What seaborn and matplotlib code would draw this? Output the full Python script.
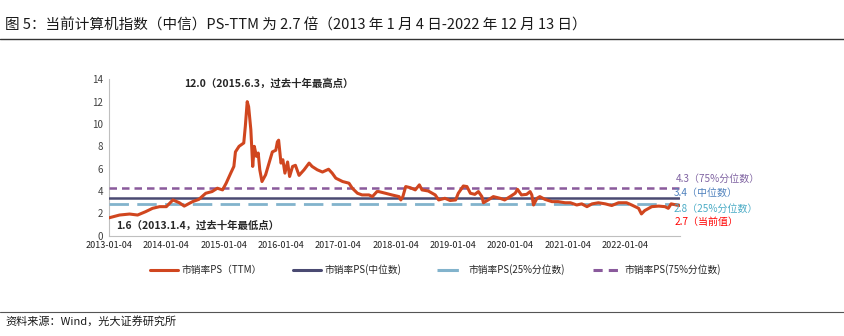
import matplotlib
matplotlib.use("Agg")
import matplotlib.pyplot as plt
from matplotlib.lines import Line2D
import seaborn as sns
import pandas as pd

sns.set_theme(style="white")
plt.rcParams['font.family'] = ['Noto Sans CJK SC', 'DejaVu Sans']

# ---- data ----
dates = [
    "2013-01-04", "2013-03-12", "2013-05-15", "2013-07-05", "2013-08-25", "2013-10-08", "2013-11-22",
    "2014-01-04", "2014-02-15", "2014-03-28", "2014-04-28", "2014-06-20", "2014-07-30", "2014-09-12",
    "2014-10-22", "2014-11-25", "2014-12-28", "2015-01-20", "2015-02-18", "2015-03-10", "2015-03-20",
    "2015-04-12", "2015-05-12", "2015-05-22", "2015-06-03", "2015-06-12", "2015-06-26", "2015-07-08",
    "2015-07-18", "2015-08-01", "2015-08-12", "2015-08-22", "2015-09-05", "2015-09-28", "2015-10-20",
    "2015-11-10", "2015-12-02", "2015-12-12", "2015-12-20", "2016-01-04", "2016-01-16", "2016-01-29",
    "2016-02-15", "2016-02-28", "2016-03-18", "2016-04-05", "2016-04-28", "2016-05-30", "2016-07-01",
    "2016-07-20", "2016-08-22", "2016-09-24", "2016-11-02", "2016-11-25", "2016-12-18", "2017-01-30",
    "2017-03-12", "2017-04-02", "2017-05-05", "2017-06-03", "2017-07-17", "2017-08-08", "2017-09-06",
    "2017-09-17", "2017-10-30", "2017-12-10", "2018-01-25", "2018-02-05", "2018-02-18", "2018-03-08",
    "2018-04-06", "2018-05-08", "2018-06-03", "2018-06-20", "2018-07-30", "2018-09-12", "2018-10-04",
    "2018-11-13", "2018-12-16", "2019-01-20", "2019-02-06", "2019-03-10", "2019-04-02", "2019-04-24",
    "2019-05-22", "2019-06-14", "2019-07-06", "2019-07-16", "2019-08-15", "2019-09-17", "2019-10-30",
    "2019-11-28", "2020-01-02", "2020-02-03", "2020-02-18", "2020-03-14", "2020-04-16", "2020-05-08",
    "2020-05-19", "2020-05-30", "2020-06-21", "2020-07-09", "2020-08-11", "2020-09-24", "2020-11-03",
    "2020-12-17", "2021-01-20", "2021-03-01", "2021-04-02", "2021-05-05", "2021-06-07", "2021-07-17",
    "2021-08-30", "2021-10-10", "2021-11-22", "2022-01-12", "2022-02-14", "2022-03-30", "2022-04-17",
    "2022-05-08", "2022-06-22", "2022-08-05", "2022-09-14", "2022-10-05", "2022-10-23", "2022-11-25",
    "2022-12-13",
]
ps_ttm = [
    1.6, 1.85, 1.94, 1.85, 2.15, 2.45, 2.6,
    2.6, 3.2, 2.95, 2.65, 3.05, 3.25, 3.8,
    3.95, 4.25, 4.1, 4.7, 5.6, 6.2, 7.5,
    8.0, 8.3, 9.8, 12.0, 11.55, 9.5, 6.2,
    8.0, 7.1, 7.4, 5.9, 4.85, 5.45, 6.5,
    7.5, 7.65, 8.4, 8.55, 6.5, 6.8, 5.6,
    6.6, 5.3, 6.2, 6.3, 5.4, 5.9, 6.5,
    6.2, 5.9, 5.7, 5.95, 5.6, 5.15, 4.85,
    4.7, 4.25, 3.8, 3.65, 3.65, 3.5, 3.95,
    3.95, 3.8, 3.65, 3.5, 3.2, 3.5, 4.4,
    4.3, 4.1, 4.55, 4.1, 4.0, 3.65, 3.2,
    3.35, 3.15, 3.2, 3.8, 4.45, 4.4, 3.8,
    3.7, 3.95, 3.5, 2.95, 3.2, 3.5, 3.35,
    3.2, 3.5, 3.8, 4.15, 3.65, 3.7, 3.95,
    3.65, 2.75, 3.35, 3.5, 3.25, 3.05, 3.05,
    2.95, 2.95, 2.75, 2.85, 2.6, 2.85, 2.95,
    2.85, 2.7, 2.95, 2.95, 2.75, 2.45, 1.95,
    2.25, 2.6, 2.65, 2.6, 2.45, 2.85, 2.75,
    2.7,
]
median_ps = 3.4
p25_ps = 2.8
p75_ps = 4.3
current_ps = 2.7
tick_dates = ["2013-01-04", "2014-01-04", "2015-01-04", "2016-01-04", "2017-01-04",
              "2018-01-04", "2019-01-04", "2020-01-04", "2021-01-04", "2022-01-04"]
y_ticks = [0, 2, 4, 6, 8, 10, 12, 14]
legend_labels = ["市销率PS（TTM）", "市销率PS(中位数)", "市销率PS(25%分位数)", "市销率PS(75%分位数)"]

df = pd.DataFrame({"date": pd.to_datetime(dates), "ps": ps_ttm})
df["median"] = median_ps
df["p25"] = p25_ps
df["p75"] = p75_ps

C_SERIES = "#D0461F"
C_MED = "#4A4A72"
C_P25 = "#82B3CC"
C_P75 = "#8A5A9C"

fig = plt.figure(figsize=(8.45, 3.36), dpi=100)
ax = fig.add_axes([0.129, 0.2985, 0.676, 0.4655])

sns.lineplot(data=df, x="date", y="ps", ax=ax, color=C_SERIES, linewidth=2.2, zorder=5)
sns.lineplot(data=df, x="date", y="median", ax=ax, color=C_MED, linewidth=1.8, zorder=3)
sns.lineplot(data=df, x="date", y="p25", ax=ax, color=C_P25, linewidth=2.0, zorder=3,
             linestyle=(0, (7, 3)))
sns.lineplot(data=df, x="date", y="p75", ax=ax, color=C_P75, linewidth=1.8, zorder=3,
             linestyle=(0, (3, 2)))

ax.set_xlim(pd.Timestamp("2013-01-04"), pd.Timestamp("2022-12-20"))
ax.set_ylim(0, 14)
ax.set_yticks(y_ticks)
ax.set_yticklabels([str(v) for v in y_ticks], fontsize=7, color="#404040")
ax.set_xticks(pd.to_datetime(tick_dates))
ax.set_xticklabels(tick_dates, fontsize=6.5, color="#202020")
ax.tick_params(axis="x", direction="in", length=3, color="#BFBFBF", pad=4)
ax.tick_params(axis="y", length=0, pad=4)
ax.set_xlabel("")
ax.set_ylabel("")
for s in ["top", "right"]:
    ax.spines[s].set_visible(False)
for s in ["left", "bottom"]:
    ax.spines[s].set_color("#BFBFBF")
    ax.spines[s].set_linewidth(0.8)
ax.grid(False)

# annotations
ax.text(pd.Timestamp("2014-04-25"), 13.65, "12.0（2015.6.3，过去十年最高点）", fontsize=7.5,
        color="#262626", fontweight="bold", va="center", ha="left")
ax.text(pd.Timestamp("2013-02-20"), 0.9, "1.6（2013.1.4，过去十年最低点）", fontsize=7.5,
        color="#262626", fontweight="bold", va="center", ha="left")

fig.text(676 / 845, 1 - 179 / 336, "4.3（75%分位数）", fontsize=7.2, color="#8064A2", va="center")
fig.text(674 / 845, 1 - 193 / 336, "3.4（中位数）", fontsize=7.2, color="#4F81BD", va="center")
fig.text(674 / 845, 1 - 209 / 336, "2.8（25%分位数）", fontsize=7.2, color="#4BACC6", va="center")
fig.text(675 / 845, 1 - 222.5 / 336, "2.7（当前值）", fontsize=7.2, color="#FF0000", va="center")

# legend: one entry per position
handles = [
    Line2D([], [], color=C_SERIES, linewidth=2.2),
    Line2D([], [], color=C_MED, linewidth=2.2),
    Line2D([], [], color=C_P25, linewidth=2.2, linestyle=(0, (7, 3))),
    Line2D([], [], color=C_P75, linewidth=2.2, linestyle=(0, (3, 2))),
]
legend_x = [150, 293, 437, 593]
for h, lab, lx in zip(handles, legend_labels, legend_x):
    fig.legend([h], [lab], loc="center left", bbox_to_anchor=(lx / 845, 1 - 270 / 336),
               frameon=False, fontsize=7, handlelength=2.9, handletextpad=0.3,
               borderaxespad=0, borderpad=0)

# title and footer
fig.text(5 / 845, 1 - 25 / 336, "图 5：当前计算机指数（中信）PS-TTM 为 2.7 倍（2013 年 1 月 4 日-2022 年 12 月 13 日）",
         fontsize=10.5, color="#1a1a1a", va="center", ha="left")
fig.add_artist(Line2D([0.0, 1.0], [1 - 38.5 / 336, 1 - 38.5 / 336], color="#333333", linewidth=1.0))
fig.add_artist(Line2D([0.0, 1.0], [1 - 311.5 / 336, 1 - 311.5 / 336], color="#555555", linewidth=0.8))
fig.text(5 / 845, 1 - 321.5 / 336, "资料来源：Wind，光大证券研究所", fontsize=8, color="#1a1a1a",
         va="center", ha="left")

fig.savefig("out.png", dpi=100)
